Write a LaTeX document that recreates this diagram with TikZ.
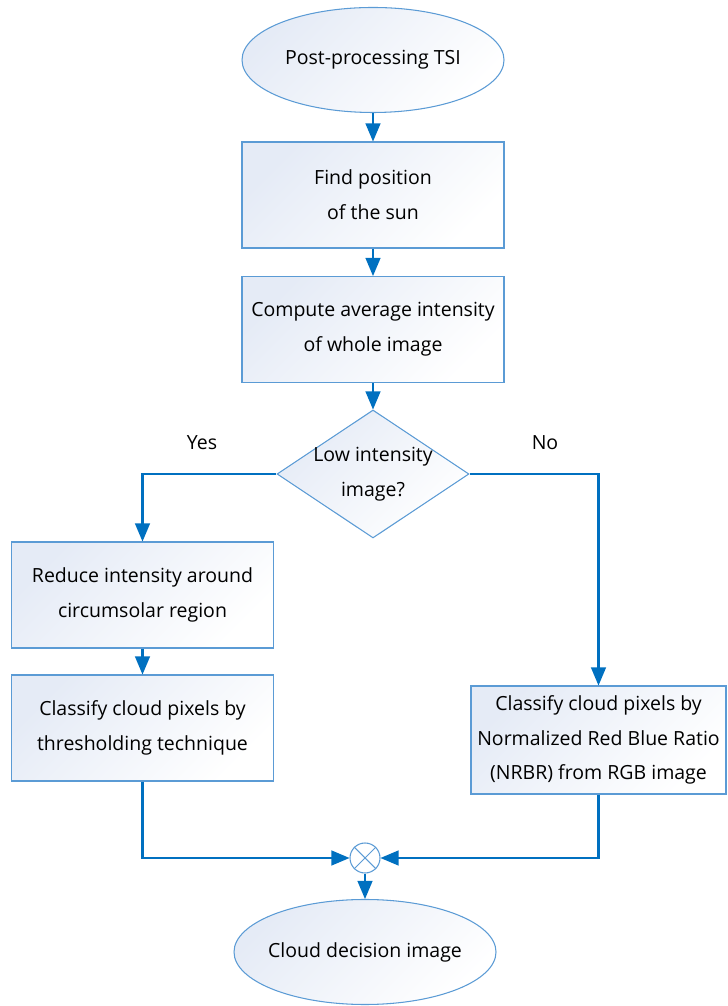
\documentclass[tikz,border=0pt]{standalone}
\usepackage{fontspec}
\setmainfont{Open Sans}
\usepackage{tikz}
\usetikzlibrary{shapes.geometric, arrows}
\definecolor{outline}{RGB}{91,155,213}
\definecolor{flow}{RGB}{0,112,192}
\definecolor{boxfill}{RGB}{229,235,246}
\tikzstyle{terminal} = [ellipse, inner sep=-4pt, minimum width=5.24cm, minimum height=2.1cm, align=center, draw=outline, line width=0.6pt, left color=boxfill, right color=white, shading angle=45]
\tikzstyle{process} = [rectangle, minimum width=5.24cm, minimum height=2.12cm, align=center, draw=outline, line width=0.6pt, left color=boxfill, right color=white, shading angle=45]
\tikzstyle{decision} = [diamond, aspect=1.5, inner sep=-3.5pt, minimum width=3.84cm, minimum height=2.56cm, align=center, draw=outline, line width=0.6pt, left color=boxfill, right color=white, shading angle=45]
\tikzstyle{arrow} = [line width=1.4pt, draw=flow, ->, >=triangle 45]
\tikzstyle{line} = [line width=1.4pt, draw=flow, -]

\begin{document}
\begin{tikzpicture}[font=\fontsize{11.1pt}{19.8pt}\selectfont]
     \useasboundingbox (0, 0) rectangle (14.54, 20.12);
     \node (start) at (7.46, 18.92) [terminal] {Post-processing TSI};
     \node (sunpos) at (7.46, 16.22) [process] {Find position\\of the sun};
     \node (avgint) at (7.46, 13.53) [process] {Compute average intensity\\of whole image};
     \node (lowint) at (7.46, 10.64) [decision] {Low intensity\\image?};
     \node (yes) at (4.04, 11.26) {Yes};
     \node (no) at (10.90, 11.26) {No};
     \node (reduce) at (2.85, 8.22) [process] {Reduce intensity around\\circumsolar region};
     \node (thresh) at (2.85, 5.56) [process] {Classify cloud pixels by\\thresholding technique};
     \node (nrbr) at (11.97, 5.32) [process, minimum width=5.1cm, minimum height=2.16cm]
           {Classify cloud pixels by\\Normalized Red Blue Ratio\\(NRBR) from RGB image};
     \node (merge) at (7.30, 2.96) [circle, minimum size=0.6cm, inner sep=0pt, draw=outline, line width=0.6pt, fill=white] {};
     \draw[draw=outline, line width=0.6pt] (merge.north east) -- (merge.south west) (merge.north west) -- (merge.south east);
     \node (final) at (7.30, 1.08) [terminal] {Cloud decision image};
     \draw[arrow] (start) -- (sunpos);
     \draw[arrow] (sunpos) -- (avgint);
     \draw[arrow] (avgint) -- (lowint);
     \draw[arrow] (lowint.west) -| (reduce.north);
     \draw[arrow] (lowint.east) -| (nrbr.north);
     \draw[arrow] (reduce) -- (thresh);
     \draw[arrow] (thresh.south) |- (merge.west);
     \draw[arrow] (nrbr.south) |- (merge.east);
     \draw[arrow] (merge) -- (final);
   \end{tikzpicture}
\end{document}
